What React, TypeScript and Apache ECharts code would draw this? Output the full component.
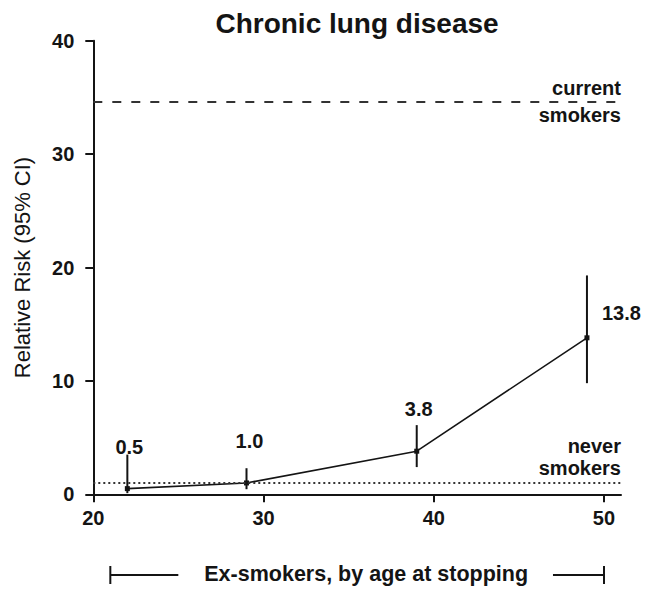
import React, { useEffect, useRef } from 'react';
import * as echarts from 'echarts';

// ---- data ----
const ages = [22, 29, 39, 49];
const relativeRisk = [0.5, 1.0, 3.8, 13.8];
const ciLower = [0.1, 0.45, 2.4, 9.8];
const ciUpper = [3.5, 2.3, 6.1, 19.3];
const riskLabels = ['0.5', '1.0', '3.8', '13.8'];
const currentSmokersRR = 34.6;
const neverSmokersRR = 1.0;
const xTicks = [20, 30, 40, 50];
const bracketAges = [21, 50];

const titleText = 'Chronic lung disease';
const yTitle = 'Relative Risk (95% CI)';
const xTitle = 'Ex-smokers, by age at stopping';

// ---- layout / style (not data) ----
const FONT = '"Liberation Sans", Arial, Helvetica, sans-serif';
const INK = '#141414';
// label placement relative to the CI top (or point for the last), in px
const labelOffsets: [number, number, string, 'hi' | 'pt'][] = [
  [2, -8, 'center', 'hi'],
  [3, -27, 'center', 'hi'],
  [2, -16, 'center', 'hi'],
  [15, -25, 'left', 'pt'],
];

export default function App() {
  const ref = useRef<HTMLDivElement>(null);
  useEffect(() => {
    if (!ref.current) return;
    const chart = echarts.init(ref.current, null, { renderer: 'svg' });
    const option: any = {
      animation: false,
      backgroundColor: '#ffffff',
      title: {
        text: titleText,
        left: 357,
        textAlign: 'center',
        top: 9,
        padding: 0,
        textStyle: { fontFamily: FONT, fontWeight: 'bold', fontSize: 28, color: INK },
      },
      grid: { left: 93.3, right: 25, top: 40.7, bottom: 95.7, containLabel: false },
      xAxis: {
        type: 'value',
        min: 20,
        max: 51,
        interval: 10,
        axisLine: { show: true, lineStyle: { color: INK, width: 2 } },
        axisTick: { show: true, length: 8, lineStyle: { color: INK, width: 2 }, customValues: xTicks },
        axisLabel: {
          customValues: xTicks,
          margin: 14,
          fontFamily: FONT,
          fontWeight: 'bold',
          fontSize: 20,
          color: INK,
        },
        splitLine: { show: false },
      },
      yAxis: {
        type: 'value',
        min: 0,
        max: 40,
        interval: 10,
        name: yTitle,
        nameLocation: 'middle',
        nameGap: 60,
        nameTextStyle: { fontFamily: FONT, fontWeight: 'normal', fontSize: 22, color: INK },
        axisLine: { show: true, lineStyle: { color: INK, width: 2 } },
        axisTick: { show: true, length: 8, lineStyle: { color: INK, width: 2 } },
        axisLabel: { margin: 19, fontFamily: FONT, fontWeight: 'bold', fontSize: 20, color: INK },
        splitLine: { show: false },
      },
      series: [
        {
          type: 'line',
          data: ages.map((a, i) => [a, relativeRisk[i]]),
          symbol: 'rect',
          symbolSize: 5,
          itemStyle: { color: INK },
          lineStyle: { color: INK, width: 1.6 },
          z: 3,
          markLine: {
            silent: true,
            symbol: 'none',
            animation: false,
            data: [
              {
                yAxis: currentSmokersRR,
                lineStyle: { type: [9, 10], width: 2, color: '#333' },
                label: {
                  show: true,
                  position: 'insideEnd',
                  distance: 0,
                  formatter: 'current\nsmokers',
                  fontFamily: FONT,
                  fontWeight: 'bold',
                  fontSize: 20,
                  lineHeight: 27,
                  color: INK,
                  align: 'right',
                },
              },
              {
                yAxis: neverSmokersRR,
                lineStyle: { type: [2, 3], width: 2, color: '#333' },
                label: {
                  show: true,
                  position: 'insideEndTop',
                  distance: [0, 4],
                  formatter: 'never\nsmokers',
                  fontFamily: FONT,
                  fontWeight: 'bold',
                  fontSize: 20,
                  lineHeight: 22,
                  color: INK,
                  align: 'right',
                },
              },
            ],
          },
        },
        {
          type: 'custom',
          z: 4,
          data: ages.map((a, i) => [a, ciLower[i], ciUpper[i], relativeRisk[i]]),
          renderItem: (params: any, api: any) => {
            const i = params.dataIndex;
            const x = api.value(0);
            const lo = api.coord([x, api.value(1)]);
            const hi = api.coord([x, api.value(2)]);
            const pt = api.coord([x, api.value(3)]);
            const off = labelOffsets[i];
            const anchor = off[3] === 'pt' ? pt : hi;
            return {
              type: 'group',
              children: [
                {
                  type: 'line',
                  shape: { x1: lo[0], y1: lo[1], x2: hi[0], y2: hi[1] },
                  style: { stroke: INK, lineWidth: 2 },
                },
                {
                  type: 'text',
                  x: anchor[0] + off[0],
                  y: anchor[1] + off[1],
                  style: {
                    text: riskLabels[i],
                    fill: INK,
                    fontFamily: FONT,
                    fontWeight: 'bold',
                    fontSize: 20,
                    align: off[2],
                    verticalAlign: 'middle',
                  },
                },
              ],
            };
          },
        },
      ],
    };
    chart.setOption(option);

    const bx1 = chart.convertToPixel({ xAxisIndex: 0 }, bracketAges[0]) as number;
    const bx2 = chart.convertToPixel({ xAxisIndex: 0 }, bracketAges[1]) as number;
    const by = 575;
    chart.setOption({
      graphic: [
        { type: 'line', shape: { x1: bx1, y1: by - 9, x2: bx1, y2: by + 9 }, style: { stroke: INK, lineWidth: 2 } },
        { type: 'line', shape: { x1: bx1, y1: by, x2: bx1 + 68, y2: by }, style: { stroke: INK, lineWidth: 2 } },
        { type: 'line', shape: { x1: bx2 - 51, y1: by, x2: bx2, y2: by }, style: { stroke: INK, lineWidth: 2 } },
        { type: 'line', shape: { x1: bx2, y1: by - 9, x2: bx2, y2: by + 9 }, style: { stroke: INK, lineWidth: 2 } },
        {
          type: 'text',
          x: (bx1 + bx2) / 2 + 9,
          y: by - 1,
          style: {
            text: xTitle,
            fill: INK,
            fontFamily: FONT,
            fontWeight: 'bold',
            fontSize: 21.5,
            align: 'center',
            verticalAlign: 'middle',
          },
        },
      ],
    });
    return () => chart.dispose();
  }, []);
  return (
    <div
      ref={ref}
      style={{ position: 'absolute', left: 0, top: 0, width: 646, height: 590, background: '#fff' }}
    />
  );
}
